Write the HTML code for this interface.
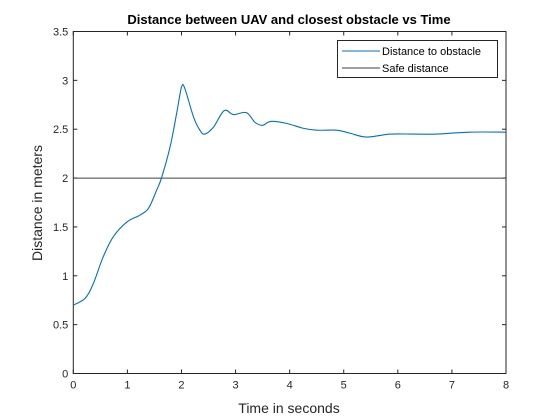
<!DOCTYPE html>
<html><head><meta charset="utf-8"><style>
html,body{margin:0;padding:0;background:#fff;}
svg{display:block;font-family:"Liberation Sans",Arial,sans-serif;}
</style></head><body>
<svg id="chart" width="560" height="420">
<rect x="0" y="0" width="560" height="420" fill="#fff"/>
<text x="289" y="24" text-anchor="middle" font-size="13" font-weight="bold" fill="#000">Distance between UAV and closest obstacle vs Time</text>
<g id="axes"></g>
<text x="289" y="413" text-anchor="middle" font-size="14" fill="#262626">Time in seconds</text>
<text transform="translate(42,203) rotate(-90)" text-anchor="middle" font-size="14" fill="#262626">Distance in meters</text>
</svg>
<script>
const times = [0,0.22,0.37,0.55,0.74,0.99,1.23,1.39,1.54,1.63,1.79,1.91,2.0,2.06,2.22,2.34,2.43,2.59,2.79,2.96,3.2,3.36,3.5,3.65,3.94,4.25,4.5,4.87,5.11,5.42,5.86,6.29,6.72,7.33,8];
const distances = [0.70,0.77,0.92,1.19,1.40,1.55,1.62,1.69,1.875,2.0,2.32,2.66,2.93,2.92,2.63,2.49,2.45,2.52,2.69,2.65,2.67,2.57,2.54,2.58,2.56,2.51,2.49,2.49,2.46,2.42,2.45,2.45,2.45,2.47,2.47];
const safeDistance = 2;
const xTicks = [0,1,2,3,4,5,6,7,8];
const yTicks = [0,0.5,1,1.5,2,2.5,3,3.5];
const yTickLabels = ["0","0.5","1","1.5","2","2.5","3","3.5"];

const L=73.3,R=506,T=31.5,B=373.5,XMAX=8,YMAX=3.5;
const xs=v=>L+(v/XMAX)*(R-L);
const ys=v=>B-(v/YMAX)*(B-T);
const NS="http://www.w3.org/2000/svg";
const g=document.getElementById('axes');
function mk(tag,attrs){const e=document.createElementNS(NS,tag);for(const k in attrs)e.setAttribute(k,attrs[k]);g.appendChild(e);return e;}

const frame=mk('rect',{x:L,y:T,width:R-L,height:B-T,fill:'#fff',stroke:'#262626','stroke-width':1});



xTicks.forEach(t=>{
  const x=xs(t);
  const a=mk('line',{x1:x,x2:x,y1:B,y2:B-4,stroke:'#262626'});
  
  
  const b=mk('line',{x1:x,x2:x,y1:T,y2:T+4,stroke:'#262626'});
  
  
  const tx=mk('text',{x:x,y:B+15,'text-anchor':'middle','font-size':11,fill:'#262626'});
  tx.textContent=String(t);
  
  
});
yTicks.forEach((t,i)=>{
  const y=ys(t);
  const a=mk('line',{x1:L,x2:L+4,y1:y,y2:y,stroke:'#262626'});
  
  
  const b=mk('line',{x1:R,x2:R-4,y1:y,y2:y,stroke:'#262626'});
  
  
  const tx=mk('text',{x:L-5,y:y+4,'text-anchor':'end','font-size':11,fill:'#262626'});
  tx.textContent=yTickLabels[i];
  
  
});

const safe=mk('line',{x1:L,x2:R,y1:ys(safeDistance),y2:ys(safeDistance),stroke:'#404040','stroke-width':1});



const P=times.map((t,i)=>[xs(t),ys(distances[i])]);
let d='M'+P[0][0]+','+P[0][1];
for(let i=0;i<P.length-1;i++){
  const p0=P[Math.max(0,i-1)],p1=P[i],p2=P[i+1],p3=P[Math.min(P.length-1,i+2)];
  const c1=[p1[0]+(p2[0]-p0[0])/6,p1[1]+(p2[1]-p0[1])/6];
  const c2=[p2[0]-(p3[0]-p1[0])/6,p2[1]-(p3[1]-p1[1])/6];
  d+=' C'+c1[0]+','+c1[1]+' '+c2[0]+','+c2[1]+' '+p2[0]+','+p2[1];
}
const line=mk('path',{d:d,fill:'none',stroke:'#0072bd','stroke-width':1.1});



const lg=mk('rect',{x:337.5,y:40.5,width:160,height:37,fill:'#fff',stroke:'#262626'});


const l1=mk('line',{x1:342,x2:380,y1:51,y2:51,stroke:'#0072bd'});


const t1=mk('text',{x:382,y:55,'font-size':11,fill:'#000'});
t1.textContent='Distance to obstacle';


const l2=mk('line',{x1:342,x2:380,y1:68,y2:68,stroke:'#404040'});


const t2=mk('text',{x:382,y:72,'font-size':11,fill:'#000'});
t2.textContent='Safe distance';


</script>
</body></html>
